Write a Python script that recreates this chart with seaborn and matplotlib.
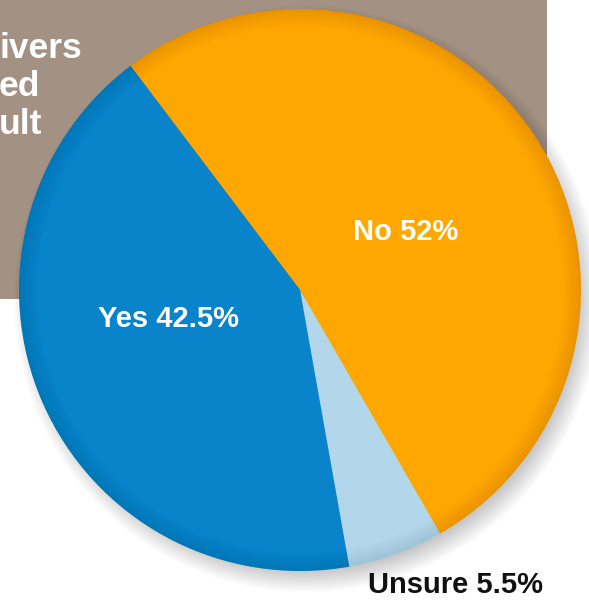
import matplotlib
matplotlib.use("Agg")
import matplotlib.pyplot as plt
from matplotlib.patches import Rectangle, Circle, Wedge
import seaborn as sns

# ---- data ----
categories = ["No", "Unsure", "Yes"]
shares = [52.0, 5.5, 42.5]
label_texts = ["No 52%", "Unsure 5.5%", "Yes 42.5%"]
header_lines = ["ivers", "ed", "ult"]

sns.set_theme(style="white")
plt.rcParams["font.family"] = ["Liberation Sans", "DejaVu Sans"]

colors = sns.color_palette(["#FEA700", "#B3D7EA", "#0983CA"])

W, H = 589, 603
fig = plt.figure(figsize=(W / 100, H / 100), dpi=100)
ax = fig.add_axes([0, 0, 1, 1])

def Y(y):
    return H - y

# brown background box
ax.add_patch(Rectangle((0, Y(299)), 547, 299, facecolor="#A39283",
                       edgecolor="none", zorder=0))

# header text (cropped)
hdr_font = dict(color="white", fontsize=25.5, fontweight="bold",
                ha="left", va="baseline", zorder=1)
for txt, yb in zip(header_lines, [58, 96, 134]):
    ax.text(-1, Y(yb), txt, **hdr_font)

cx, cy, R = 300, Y(290), 281

# soft drop shadow
for i in range(14):
    ax.add_patch(Circle((cx + 7, cy - 9), R + 12 - i * 1.6,
                        facecolor="black", alpha=0.016, edgecolor="none",
                        zorder=2))

wedges, _ = ax.pie(shares, colors=colors, startangle=127.1,
                   counterclock=False, center=(cx, cy), radius=R,
                   wedgeprops=dict(linewidth=0, zorder=3), frame=True)
for w in wedges:
    w.set_zorder(3)

# subtle edge darkening
for i in range(10):
    ax.add_patch(Wedge((cx, cy), R, 0, 360, width=1.5 + i * 1.8,
                       facecolor="black", alpha=0.007, edgecolor="none",
                       zorder=4))

lbl_font = dict(fontsize=21, fontweight="bold", ha="center", va="center",
                zorder=5)
ax.text(406, Y(232), label_texts[0], color="white", **lbl_font)
ax.text(168, Y(319), label_texts[2], color="white", **lbl_font)
ax.text(455, Y(585), label_texts[1], color="#111111", **lbl_font)

ax.set_xlim(0, W)
ax.set_ylim(0, H)
ax.set_aspect("auto")
ax.axis("off")

fig.savefig("out.png", dpi=100)
